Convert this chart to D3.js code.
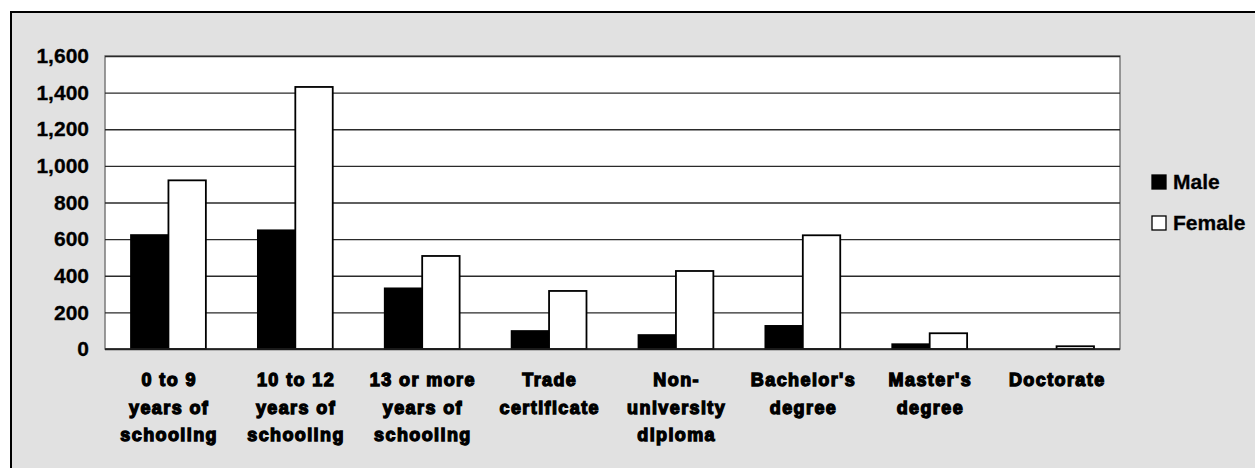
<!DOCTYPE html>
<html>
<head>
<meta charset="utf-8">
<script src="https://cdn.jsdelivr.net/npm/d3@7"></script>
<style>
  body { margin: 0; background: #fff; }
  svg { display: block; font-family: "Liberation Sans", Arial, sans-serif; }
  .ytick text { font-size: 21px; font-weight: bold; fill: #000; stroke: #000; stroke-width: 0.3px; }
  .cat { font-size: 18px; font-weight: bold; letter-spacing: 1.4px; fill: #000; stroke: #000; stroke-width: 1.3px; }
  .legend text { font-size: 21px; font-weight: bold; fill: #000; stroke: #000; stroke-width: 0.3px; }
</style>
</head>
<body>
<svg id="chart" width="1255" height="468"></svg>
<script>
// categories, one entry per line of the tick label
var categories = [
  ["0 to 9", "years of", "schooling"],
  ["10 to 12", "years of", "schooling"],
  ["13 or more", "years of", "schooling"],
  ["Trade", "certificate"],
  ["Non-", "university", "diploma"],
  ["Bachelor's", "degree"],
  ["Master's", "degree"],
  ["Doctorate"]
];
var seriesNames = ["Male", "Female"];
var male = [622, 648, 331, 98, 76, 126, 26, 0];
var female = [921, 1431, 508, 317, 426, 621, 86, 15];
var yTicks = [0, 200, 400, 600, 800, 1000, 1200, 1400, 1600];

var svg = d3.select("#chart"),
    margin = {top: 56, left: 105},
    width = 1015,
    height = 293;

// grey panel with a black frame on the top and left
svg.append("rect")
  .attr("x", 11).attr("y", 12)
  .attr("width", 1300).attr("height", 500)
  .attr("fill", "#e1e1e1")
  .attr("stroke", "#000")
  .attr("stroke-width", 2);

var g = svg.append("g")
  .attr("transform", "translate(" + margin.left + "," + margin.top + ")");

var x0 = d3.scaleBand()
  .domain(d3.range(categories.length))
  .range([0, width])
  .paddingInner(0.41)
  .paddingOuter(0.205);

var x1 = d3.scaleBand()
  .domain(seriesNames)
  .range([0, x0.bandwidth()]);

var y = d3.scaleLinear().domain([0, 1600]).range([height, 0]);

g.append("rect")
  .attr("width", width).attr("height", height)
  .attr("fill", "#fff")
  .attr("stroke", "#7a7a7a")
  .attr("stroke-width", 1.5);

// gridlines and labels
var yAxis = d3.axisLeft(y)
  .tickValues(yTicks)
  .tickSize(-width)
  .tickPadding(16)
  .tickFormat(d3.format(","));

g.append("g")
  .attr("class", "ytick")
  .call(yAxis)
  .call(function(a) {
    a.select(".domain").remove();
    a.selectAll("line").attr("stroke", "#2a2a2a").attr("stroke-width", 1.3);
    a.selectAll("text").attr("font-family", null).attr("font-size", null);
  });

var rows = categories.map(function(c, i) {
  return {i: i, vals: [{k: "Male", v: male[i]}, {k: "Female", v: female[i]}]};
});

var groups = g.selectAll(".grp")
  .data(rows)
  .enter().append("g")
  .attr("class", "grp")
  .attr("transform", function(d) { return "translate(" + x0(d.i) + ",0)"; });

groups.selectAll("rect")
  .data(function(d) { return d.vals; })
  .enter().append("rect")
  .attr("x", function(d) { return x1(d.k); })
  .attr("width", x1.bandwidth())
  .attr("y", function(d) { return y(d.v); })
  .attr("height", function(d) { return height - y(d.v); })
  .attr("fill", function(d) { return d.k === "Male" ? "#000" : "#fff"; })
  .attr("stroke", "#000")
  .attr("stroke-width", 1.8);

// baseline
g.append("line")
  .attr("x1", 0).attr("x2", width)
  .attr("y1", y(0)).attr("y2", y(0))
  .attr("stroke", "#222").attr("stroke-width", 1.5);

// category labels
g.selectAll(".cat")
  .data(categories)
  .enter().append("text")
  .attr("class", "cat")
  .attr("text-anchor", "middle")
  .attr("transform", function(d, i) {
    return "translate(" + (x0(i) + x0.bandwidth() / 2 + 0.7) + "," + (height + 37) + ")";
  })
  .selectAll("tspan")
  .data(function(d) { return d; })
  .enter().append("tspan")
  .attr("x", 0)
  .attr("y", function(d, i) { return i * 27.5; })
  .text(function(d) { return d; });

// legend
var legend = svg.append("g").attr("class", "legend")
  .attr("transform", "translate(1152,175)");

var li = legend.selectAll("g")
  .data(seriesNames)
  .enter().append("g")
  .attr("transform", function(d, i) { return "translate(0," + (i * 41) + ")"; });

li.append("rect")
  .attr("width", 14).attr("height", 14)
  .attr("fill", function(d) { return d === "Male" ? "#000" : "#fff"; })
  .attr("stroke", "#000")
  .attr("stroke-width", 1.3);

li.append("text")
  .attr("x", 21).attr("y", 14)
  .text(function(d) { return d; });
</script>
</body>
</html>
